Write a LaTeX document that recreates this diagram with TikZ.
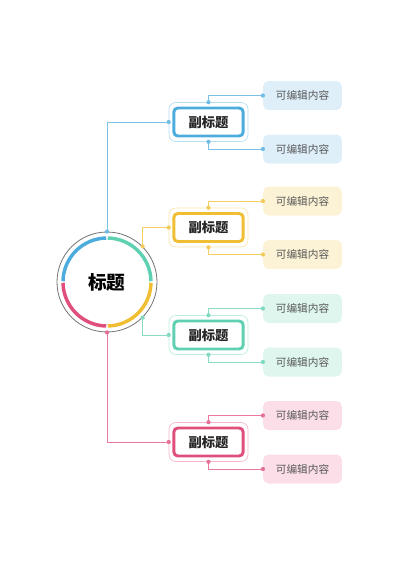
\documentclass[tikz,border=0pt]{standalone}
\usepackage{fontspec}
\setmainfont{Noto Sans CJK SC}
\usetikzlibrary{fit}

\definecolor{mainblue}{RGB}{77,172,222}
\definecolor{mainyellow}{RGB}{240,190,50}
\definecolor{maingreen}{RGB}{96,208,178}
\definecolor{mainpink}{RGB}{224,78,124}
\definecolor{softblue}{RGB}{222,239,250}
\definecolor{softyellow}{RGB}{252,243,214}
\definecolor{softgreen}{RGB}{222,246,238}
\definecolor{softpink}{RGB}{251,222,231}

\begin{document}
\begin{tikzpicture}[x=0.75pt,y=0.75pt,
    sub/.style={draw=#1,line width=2.2pt,fill=white,rounded corners=3pt,
      minimum width=52pt,minimum height=21pt,text=black!85,
      font=\bfseries\fontsize{10}{12}\selectfont},
    frame/.style={draw=#1!40,line width=0.5pt,rounded corners=5pt,
      inner xsep=2.5pt,inner ysep=3pt},
    item/.style={fill=#1,rounded corners=4pt,minimum width=59pt,
      minimum height=21.75pt,text=black!65,font=\fontsize{8}{10}\selectfont},
    link/.style={draw=#1!75,line width=0.6pt},
    dot/.style={fill=#1!80,circle,inner sep=0pt,minimum size=3.2pt}]
  \useasboundingbox (0,0) rectangle (400,-565);

  % centre
  \node[circle,draw=black!55,line width=0.6pt,minimum size=75pt,
    font=\bfseries\fontsize{14}{16}\selectfont] (main) at (107,-282) {标题};
  \draw[mainblue,line width=2.6pt] ([shift={(179:44)}]main.center) arc (179:91:44);
  \draw[maingreen,line width=2.6pt] ([shift={(89:44)}]main.center) arc (89:1:44);
  \draw[mainyellow,line width=2.6pt] ([shift={(-1:44)}]main.center) arc (-1:-89:44);
  \draw[mainpink,line width=2.6pt] ([shift={(-91:44)}]main.center) arc (-91:-179:44);

  % branches
  \foreach \c/\y/\i in {blue/122/1,yellow/227.5/2,green/335/3,pink/442/4} {
    \node[sub=main\c] (sub\i) at (208.5,-\y) {副标题};
    \node[frame=main\c,fit=(sub\i)] (box\i) {};
    \node[item=soft\c] (top\i) at (302.5,-\y+26.5) {可编辑内容};
    \node[item=soft\c] (bot\i) at (302.5,-\y-27) {可编辑内容};
    \draw[link=main\c] (box\i.north) |- (top\i.west);
    \draw[link=main\c] (box\i.south) |- (bot\i.west);
    \node[dot=main\c] at (box\i.north) {};
    \node[dot=main\c] at (box\i.south) {};
    \node[dot=main\c] at (top\i.west) {};
    \node[dot=main\c] at (bot\i.west) {};
    \node[dot=main\c] at (box\i.west) {};
  }

  \draw[link=mainblue] (main.north) |- (box1.west);
  \draw[link=mainyellow] (main.45) |- (box2.west);
  \draw[link=maingreen] (main.-45) |- (box3.west);
  \draw[link=mainpink] (main.south) |- (box4.west);
  \node[dot=mainblue] at (main.north) {};
  \node[dot=mainyellow] at (main.45) {};
  \node[dot=maingreen] at (main.-45) {};
  \node[dot=mainpink] at (main.south) {};
\end{tikzpicture}
\end{document}
